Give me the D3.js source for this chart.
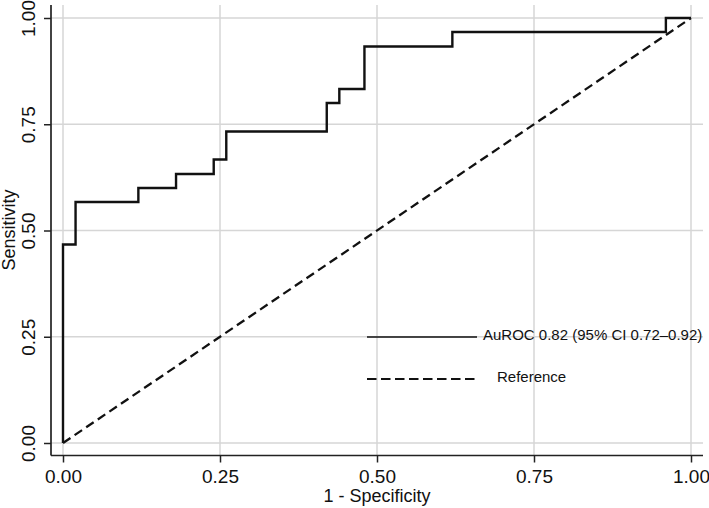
<!DOCTYPE html>
<html>
<head>
<meta charset="utf-8">
<script src="https://cdn.jsdelivr.net/npm/d3@7/dist/d3.min.js"></script>
<style>
html,body{margin:0;padding:0;background:#fff;}
svg{display:block;font-family:"Liberation Sans",Arial,sans-serif;}
</style>
</head>
<body>
<svg id="chart" width="709" height="508"></svg>
<script>
// ROC curve points (1 - Specificity, Sensitivity), step function
const rocFpr  = [0.00, 0.00, 0.02, 0.02, 0.12, 0.12, 0.18, 0.18, 0.24, 0.24, 0.26, 0.26, 0.42, 0.42, 0.44, 0.44, 0.48, 0.48, 0.62, 0.62, 0.96, 0.96, 1.00];
const rocTpr  = [0.000, 0.467, 0.467, 0.567, 0.567, 0.600, 0.600, 0.633, 0.633, 0.667, 0.667, 0.733, 0.733, 0.800, 0.800, 0.833, 0.833, 0.933, 0.933, 0.967, 0.967, 1.000, 1.000];
const refX = [0, 1];
const refY = [0, 1];
const ticks = [0, 0.25, 0.5, 0.75, 1];
const tickLabels = ["0.00", "0.25", "0.50", "0.75", "1.00"];
const legendLabels = ["AuROC 0.82 (95% CI 0.72\u20130.92)", "Reference"];
const xTitle = "1 - Specificity";
const yTitle = "Sensitivity";

const svg = d3.select("#chart");
const x = d3.scaleLinear().domain([0, 1]).range([63, 691]);
const y = d3.scaleLinear().domain([0, 1]).range([443, 18]);
const plotL = 51, plotR = 703, plotT = 5, plotB = 455.5;

// gridlines
const grid = svg.append("g").attr("stroke", "#d6d6d6").attr("stroke-width", 1.5);
ticks.forEach(t => {
  grid.append("line").attr("x1", plotL).attr("x2", plotR).attr("y1", y(t)).attr("y2", y(t));
  grid.append("line").attr("x1", x(t)).attr("x2", x(t)).attr("y1", plotT).attr("y2", plotB);
});

// axes
const xAxis = d3.axisBottom(x).tickValues(ticks).tickFormat((d, i) => tickLabels[i]).tickSize(7).tickSizeOuter(0);
const gx = svg.append("g").attr("transform", `translate(0,${plotB})`).call(xAxis);
gx.select(".domain").remove();
gx.append("line").attr("x1", plotL).attr("x2", plotR).attr("stroke", "#222").attr("stroke-width", 1.7);
gx.selectAll(".tick line").attr("stroke", "#222").attr("stroke-width", 1.5);
gx.selectAll(".tick text").attr("y", 27.8).attr("dy", 0).attr("fill", "#111")
  .style("font-size", "19px").style("font-family", "Liberation Sans, Arial, sans-serif");

const yAxis = d3.axisLeft(y).tickValues(ticks).tickFormat((d, i) => tickLabels[i]).tickSize(7).tickSizeOuter(0);
const gy = svg.append("g").attr("transform", `translate(${plotL},0)`).call(yAxis);
gy.select(".domain").remove();
gy.append("line").attr("y1", plotT).attr("y2", plotB).attr("stroke", "#222").attr("stroke-width", 1.7);
gy.selectAll(".tick line").attr("stroke", "#222").attr("stroke-width", 1.5);
gy.selectAll(".tick text").attr("transform", "rotate(-90)").attr("x", 0).attr("y", -16).attr("dy", 0)
  .attr("text-anchor", "middle").attr("fill", "#111")
  .style("font-size", "19px").style("font-family", "Liberation Sans, Arial, sans-serif");

// titles
svg.append("text").attr("x", 377).attr("y", 502).attr("text-anchor", "middle")
  .attr("fill", "#111").style("font-size", "18px").text(xTitle);
svg.append("text").attr("transform", "translate(15,230) rotate(-90)").attr("text-anchor", "middle")
  .attr("fill", "#111").style("font-size", "18px").text(yTitle);

// reference diagonal
const line = d3.line().x(d => x(d[0])).y(d => y(d[1]));
svg.append("path").datum(refX.map((v, i) => [v, refY[i]])).attr("d", line)
  .attr("fill", "none").attr("stroke", "#111").attr("stroke-width", 2.3).attr("stroke-dasharray", "9,5");

// ROC curve
svg.append("path").datum(rocFpr.map((v, i) => [v, rocTpr[i]])).attr("d", line)
  .attr("fill", "none").attr("stroke", "#111").attr("stroke-width", 2.4).attr("stroke-linejoin", "miter");

// legend
const lg = svg.append("g");
lg.append("line").attr("x1", 367).attr("x2", 477).attr("y1", 337).attr("y2", 337)
  .attr("stroke", "#111").attr("stroke-width", 1.7);
lg.append("text").attr("x", 483).attr("y", 340).attr("fill", "#111").style("font-size", "15px").text(legendLabels[0]);
lg.append("line").attr("x1", 367).attr("x2", 477).attr("y1", 379).attr("y2", 379)
  .attr("stroke", "#111").attr("stroke-width", 2.2).attr("stroke-dasharray", "9.5,4.5");
lg.append("text").attr("x", 497).attr("y", 382).attr("fill", "#111").style("font-size", "15px").text(legendLabels[1]);
</script>
</body>
</html>
